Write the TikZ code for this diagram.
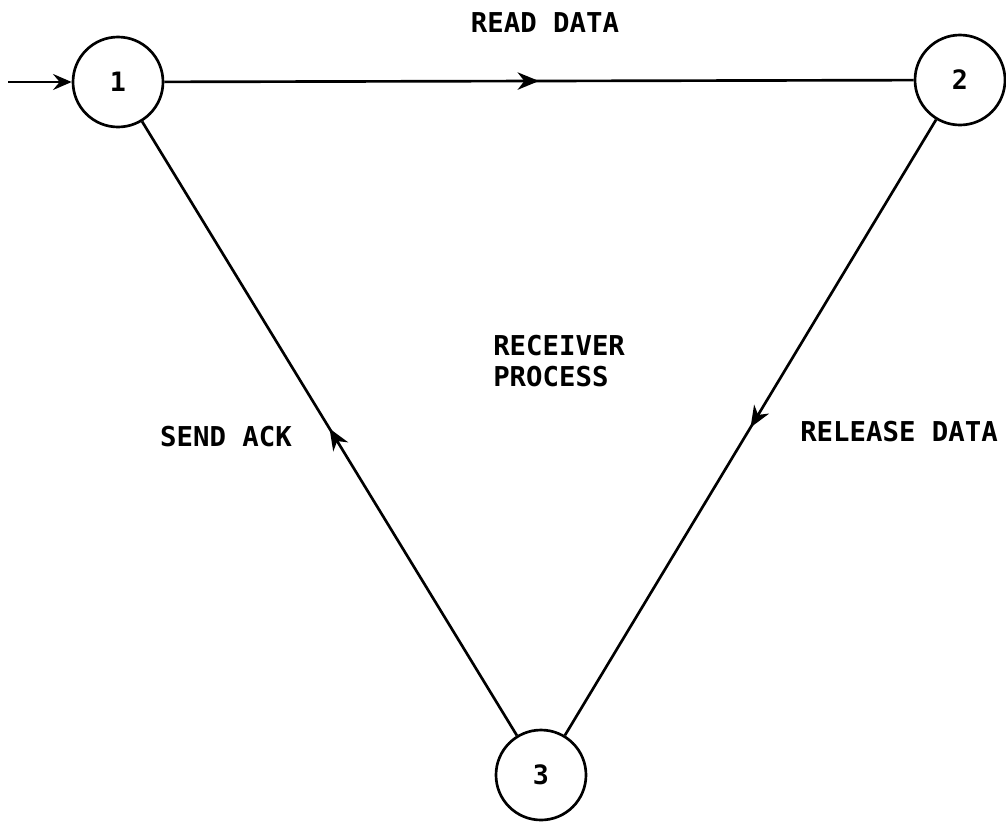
\documentclass[tikz,border=0pt]{standalone}
\usepackage{fontspec}
\setmonofont{DejaVu Sans Mono}
\usepackage{tikz}
\usetikzlibrary{arrows.meta, decorations.markings, positioning}
\tikzstyle{state} = [circle, draw, line width=2pt, minimum size=67.5pt, inner sep=0pt,
  font=\ttfamily\bfseries\fontsize{20}{23}\selectfont]
\tikzstyle{txt} = [font=\ttfamily\bfseries\fontsize{20.5}{23}\selectfont, inner sep=0pt]
\tikzstyle{line} = [draw, line width=2pt, postaction={decorate},
  decoration={markings, mark=at position 0.5 with {\arrow{Stealth[length=16pt,width=13pt,inset=5pt]}}}]
\tikzstyle{entry} = [draw, line width=2pt, -{Stealth[length=14pt,width=12pt,inset=5pt]}]

\begin{document}
\begin{tikzpicture}[x=0.75pt, y=-0.75pt]
    \useasboundingbox (0,0) rectangle (1006,822);

    \node [state] (st1) at (118,82) {1};
    \node [state] (st2) at (960,80) {2};
    \node [state] (st3) at (541,775) {3};
    \coordinate (start) at (8,82);

    \node [txt] (read) at (545,23) {READ DATA};
    \node [txt, align=left, anchor=west] (proc) at (493,361) {RECEIVER\\PROCESS};
    \node [txt] (ack) at (226,437) {SEND ACK};
    \node [txt] (release) at (899,432) {RELEASE DATA};

    \path [entry] (start) -- (st1);
    \path [line] (st1) -- (st2);
    \path [line] (st2) -- (st3);
    \path [line] (st3) -- (st1);

\end{tikzpicture}
\end{document}
